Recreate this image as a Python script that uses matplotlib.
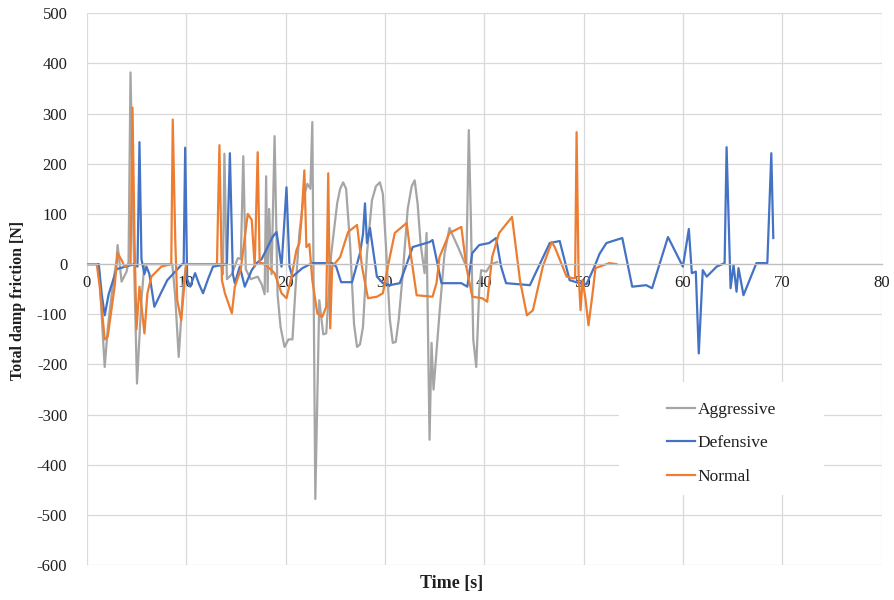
import matplotlib.pyplot as plt
from matplotlib.patches import Rectangle

# --- data ---
t_aggr = [0, 1.2, 1.4, 1.8, 2.1, 2.5, 3.0, 3.1, 3.5, 4.0, 4.2, 4.4, 4.7, 5.05, 5.5, 5.8,
          8.6, 8.9, 9.25, 9.7, 10.0, 13.5, 13.7, 13.85, 14.1, 14.6, 15.2, 15.5, 15.75, 16.0,
          16.5, 17.2, 17.6, 17.9, 18.05, 18.2, 18.35, 18.6, 18.9, 19.2, 19.5, 19.9, 20.3, 20.7,
          21.0, 21.4, 21.8, 22.2, 22.5, 22.7, 23.0, 23.4, 23.8, 24.1, 24.6, 25.2, 25.5, 25.8,
          26.1, 26.5, 26.9, 27.2, 27.5, 27.8, 28.2, 28.7, 29.1, 29.5, 29.8, 30.1, 30.5, 30.8,
          31.1, 31.4, 31.8, 32.3, 32.7, 33.0, 33.3, 33.6, 34.0, 34.2, 34.5, 34.7, 34.9, 35.5,
          36.0, 36.5, 37.0, 37.5, 38.2, 38.45, 38.65, 38.9, 39.2, 39.5, 39.7, 40.2, 40.7, 41.3]
y_aggr = [0, 0, -70, -205, -130, -60, 10, 38, -35, -15, 5, 382, 50, -238, -70, 0,
          0, -65, -185, -45, 0, 0, -20, 220, -30, -20, 12, 10, 215, -10,
          -30, -25, -40, -60, 175, -55, 110, -20, 255, -60, -125, -165, -150, -150,
          -50, 62, 130, 160, 150, 283, -468, -72, -140, -138, 20, 121, 150, 163,
          150, 40, -120, -165, -160, -125, 20, 127, 155, 163, 140, 40, -110, -157,
          -155, -110, -20, 110, 155, 167, 120, 40, -18, 62, -350, -157, -250, -98,
          20, 72, 50, 28, -5, 267, 100, -150, -205, -50, -12, -15, 0, 4]

t_def = [0, 1.2, 1.5, 1.8, 2.2, 3.0, 4.8, 5.1, 5.3, 5.5, 5.8, 6.0, 6.3, 6.8, 7.4, 8.1,
         9.6, 9.75, 9.9, 10.1, 10.4, 10.9, 11.3, 11.7, 12.2, 12.7, 14.1, 14.4, 14.7, 14.9,
         15.4, 15.9, 16.6, 17.1, 17.6, 18.1, 18.7, 19.1, 19.6, 20.1, 20.4, 20.7, 21.7, 22.7,
         24.7, 25.1, 25.6, 26.7, 27.5, 27.8, 28.0, 28.2, 28.5, 29.2, 29.8, 30.5, 31.5, 32.2,
         32.8, 34.5, 34.8, 35.7, 37.7, 38.3, 38.8, 39.5, 40.5, 41.2, 41.7, 42.2, 44.6, 46.6,
         47.6, 48.6, 49.6, 50.3, 51.1, 51.6, 52.3, 53.9, 54.9, 56.3, 56.9, 58.5, 60.0, 60.6,
         60.9, 61.3, 61.6, 62.0, 62.4, 63.4, 64.2, 64.4, 64.8, 65.1, 65.4, 65.6, 66.1, 67.4,
         68.5, 68.9, 69.1]
y_def = [0, 0, -60, -102, -60, -10, 0, -5, 243, 10, -20, -5, -20, -85, -60, -32,
         0, 0, 232, -30, -45, -18, -40, -58, -30, -5, 0, 221, -20, -38,
         -5, -45, -12, 2, 10, 30, 54, 64, -5, 153, -5, -25, -8, 2,
         2, -5, -36, -36, 22, 60, 121, 42, 72, -25, -38, -42, -38, 0,
         34, 44, 48, -38, -38, -45, 22, 38, 42, 52, -5, -38, -42, 42,
         46, -32, -38, -40, -5, 20, 42, 52, -45, -42, -48, 54, -5, 70,
         -18, -15, -178, -12, -25, -5, 2, 233, -48, -2, -55, -8, -62, 2,
         2, 221, 52]

t_norm = [0, 1.0, 1.3, 1.8, 2.1, 2.8, 3.1, 3.5, 3.8, 4.4, 4.6, 4.8, 5.0, 5.3, 5.8, 6.1,
          6.5, 7.5, 8.5, 8.65, 8.9, 9.1, 9.5, 10.0, 13.1, 13.35, 13.6, 13.9, 14.6, 14.9,
          15.5, 16.2, 16.6, 16.9, 17.2, 17.4, 17.7, 18.2, 18.9, 19.6, 20.1, 20.6, 21.1, 21.4,
          21.6, 21.9, 22.1, 22.4, 22.7, 23.2, 23.7, 24.1, 24.3, 24.5, 24.7, 25.5, 26.3, 27.2,
          27.7, 28.3, 29.2, 29.8, 30.3, 31.0, 32.2, 32.5, 33.2, 34.8, 35.2, 35.5, 36.5, 37.7,
          38.2, 38.8, 39.8, 40.3, 40.8, 41.5, 42.8, 43.6, 44.3, 44.9, 45.9, 46.8, 47.1, 48.3,
          48.9, 49.15, 49.3, 49.5, 49.7, 49.9, 50.2, 50.5, 50.9, 51.2, 52.6, 53.3]
y_norm = [0, 0, -45, -150, -145, -45, 22, 8, -5, 0, 312, 50, -130, -45, -138, -58,
          -25, -5, 0, 288, 50, -72, -112, 0, 0, 237, -32, -58, -98, -45,
          -10, 100, 88, -5, 223, 2, 2, -5, -18, -58, -68, -25, 28, 42,
          88, 187, 34, 40, -32, -98, -105, -85, 181, -128, -5, 14, 64, 78,
          -5, -68, -65, -58, -5, 62, 82, 34, -62, -65, -38, 14, 62, 74,
          -5, -65, -68, -75, 14, 62, 94, -32, -102, -92, -5, 44, 34, -25,
          -28, -28, 263, -20, -92, -32, -70, -122, -60, -8, 2, 0]

series = [("Aggressive", t_aggr, y_aggr, "#a5a5a5"),
          ("Defensive", t_def, y_def, "#4472c4"),
          ("Normal", t_norm, y_norm, "#ed7d31")]

plt.rcParams['font.family'] = ['Liberation Serif', 'DejaVu Serif']
plt.rcParams['axes.unicode_minus'] = False
txt = '#1f1f1f'

fig = plt.figure(figsize=(8.95, 6), dpi=100)
ax = fig.add_axes([0.097, 0.058, 0.888, 0.920])

for name, t, y, c in series:
    ax.plot(t, y, color=c, lw=1.6, label=name, solid_joinstyle='round')

ax.set_xlim(0, 80)
ax.set_ylim(-600, 500)
ax.set_xticks(range(0, 81, 10))
ax.set_yticks(range(-600, 501, 100))
ax.grid(True, color='#d9d9d9', lw=0.9)
ax.set_axisbelow(True)

for s in ['top', 'right', 'left']:
    ax.spines[s].set_visible(False)
ax.spines['bottom'].set_position(('data', 0))
ax.spines['bottom'].set_color('#bfbfbf')
ax.spines['bottom'].set_linewidth(0.9)
ax.tick_params(length=0, labelsize=12, colors=txt)
ax.tick_params(axis='y', pad=14)
ax.tick_params(axis='x', pad=8)

fig.text(0.020, 0.5, "Total damp friction [N]", rotation=90, ha='center', va='center',
         fontsize=11.5, fontweight='bold', color=txt)
fig.text(0.505, 0.028, "Time [s]", ha='center', va='center',
         fontsize=13, fontweight='bold', color=txt)

# white legend panel
ax.add_patch(Rectangle((0.670, 0.127), 0.258, 0.205, transform=ax.transAxes,
                       facecolor='white', edgecolor='none', zorder=3))
leg = ax.legend(loc='center', bbox_to_anchor=(0.799, 0.221), frameon=False,
                fontsize=12.5, handlelength=1.6, handletextpad=0.15, labelspacing=1.0)
leg.set_zorder(4)
for tx in leg.get_texts():
    tx.set_color(txt)

fig.savefig('out.png', dpi=100)
